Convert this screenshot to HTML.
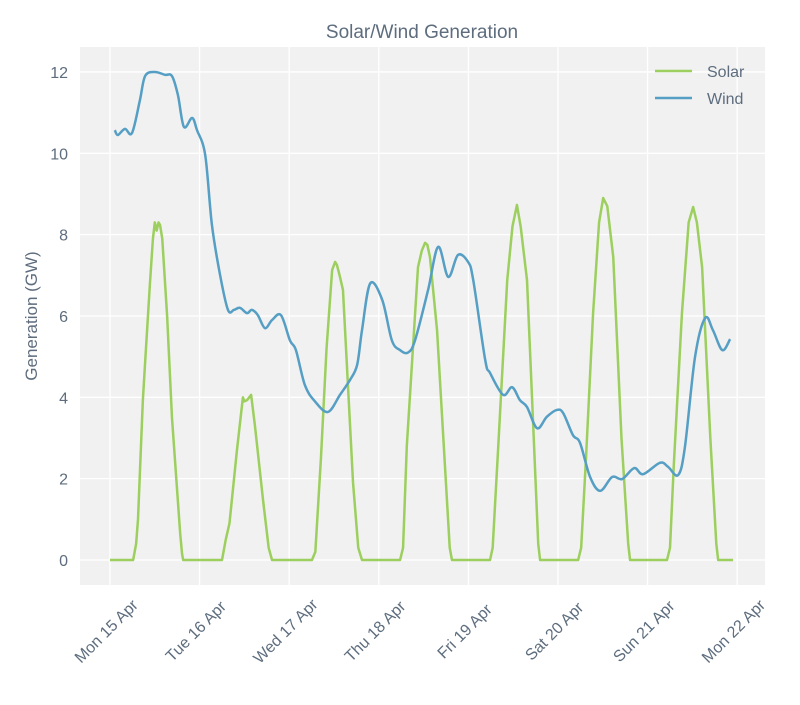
<!DOCTYPE html>
<html><head><meta charset="utf-8"><style>
body{margin:0;background:#fff;}
svg text{font-family:"Liberation Sans",sans-serif;fill:#5d6d7e;}
</style></head><body>
<svg id="chart" width="800" height="700">
<text x="422" y="38" font-size="19" text-anchor="middle">Solar/Wind Generation</text>
<rect x="80" y="47" width="685" height="538" fill="#f1f1f1"/>
<g id="grid"></g><g id="series"></g><g id="axes"></g>
<text transform="translate(37,316) rotate(-90)" font-size="17" text-anchor="middle">Generation (GW)</text>
<g>
<line x1="655" y1="71" x2="692" y2="71" stroke="#9ccf5e" stroke-width="2.5"/>
<text x="707" y="77" font-size="16">Solar</text>
<line x1="655" y1="98" x2="692" y2="98" stroke="#559ec4" stroke-width="2.5"/>
<text x="707" y="104" font-size="16">Wind</text>
</g>
</svg>
<script>
const dayLabels=["Mon 15 Apr","Tue 16 Apr","Wed 17 Apr","Thu 18 Apr","Fri 19 Apr","Sat 20 Apr","Sun 21 Apr","Mon 22 Apr"];
const yTicks=[0,2,4,6,8,10,12];
const windHours=[1.3,2.1,4,5.9,8,9.4,12,14.7,16.6,18.2,19.8,22,23.3,25.5,27.3,29.5,31.6,33.2,34.8,36.7,38,39.6,41.5,43.4,45.8,48.2,49.8,52.2,54.9,58.4,61.6,64.3,66.2,67.5,69.7,72.9,75.5,77.7,79.8,81.7,85.2,87.9,90.6,93.2,95.9,97.3,100.5,101.8,105.3,107.7,109.8,111.7,114.4,117,119.7,121.4,124,125.9,128.6,131.3,134.5,137.2,140.4,142.8,147.3,149.5,152.2,154,156.7,159.4,161.5,164,166.1];
const windValues=[10.57,10.45,10.6,10.5,11.3,11.9,12.0,11.93,11.9,11.43,10.65,10.87,10.57,9.96,8.24,7.0,6.15,6.15,6.2,6.07,6.15,6.02,5.7,5.9,6.02,5.4,5.16,4.3,3.9,3.64,4.06,4.43,4.8,5.65,6.8,6.4,5.4,5.16,5.1,5.4,6.64,7.7,6.96,7.5,7.33,6.88,4.92,4.6,4.06,4.25,3.93,3.76,3.24,3.52,3.69,3.61,3.07,2.88,2.04,1.7,2.04,1.99,2.26,2.11,2.39,2.29,2.09,2.78,4.99,5.95,5.65,5.16,5.43];
const solarHours=[0,6.2,7,7.5,8.8,9.5,10.7,11.5,12,12.5,13,13.4,14,15.3,16.6,18.8,19.3,19.6,30,31,32,34,35.6,36,36.7,37.3,37.8,38.8,41,42.5,43.4,54.1,55,56.5,58,59.5,60.3,60.8,61.5,62.4,65.1,66.5,67.5,77.7,78.5,79.5,82.5,83.5,84.4,85,85.7,87.6,91,91.6,101.8,102.5,104,106.4,107.8,109,110,111.7,113.5,114.7,115.2,125.4,126.2,127.5,129.4,131,132.1,133.2,134.8,137,138.8,139.3,149.2,150,151,153.2,155,156.2,157.2,158.6,160.8,162.4,162.9,166.9];
const solarValues=[0,0,0.4,1.0,3.93,5.0,6.8,7.9,8.3,8.1,8.3,8.24,7.9,6.0,3.5,0.65,0.15,0,0,0.5,0.9,2.7,4.0,3.9,3.93,4.0,4.06,3.32,1.47,0.3,0,0,0.2,2.5,5.2,7.13,7.33,7.25,7.0,6.64,1.9,0.3,0,0,0.3,2.8,7.2,7.6,7.8,7.75,7.45,5.65,0.3,0,0,0.3,2.8,6.88,8.2,8.73,8.2,6.88,3.0,0.4,0,0,0.3,2.5,6.07,8.3,8.9,8.7,7.45,3.0,0.4,0,0,0.3,2.3,6.07,8.3,8.68,8.3,7.2,3.0,0.4,0,0];
const NS="http://www.w3.org/2000/svg";
const X0=80,X1=765,Y0=47,Y1=585;
function xScale(h){return 110+h*(89.6/24);}
function yScale(v){return 560-v*40.67;}
function mk(tag,attrs,parent){const e=document.createElementNS(NS,tag);for(const k in attrs)e.setAttribute(k,attrs[k]);parent.appendChild(e);return e;}
const grid=document.getElementById('grid'),axes=document.getElementById('axes'),series=document.getElementById('series');
yTicks.forEach((t,i)=>{
  const y=yScale(t);
  const g=mk('line',{x1:X0,x2:X1,y1:y,y2:y,stroke:'#fff','stroke-width':1.3},grid);
  
  
  const tx=mk('text',{x:68,y:y+6,'font-size':16,'text-anchor':'end'},axes);
  tx.textContent=t;
  
  
});
dayLabels.forEach((d,i)=>{
  const x=xScale(i*24);
  const g=mk('line',{x1:x,x2:x,y1:Y0,y2:Y1,stroke:'#fff','stroke-width':1.3},grid);
  
  
  const tx=mk('text',{transform:`translate(${x},${Y1+50}) rotate(-45)`,'font-size':16,'text-anchor':'middle'},axes);
  tx.textContent=d;
  
  
});
function smooth(hs,vs){
  const p=hs.map((h,i)=>[xScale(h),yScale(vs[i])]);
  let d=`M${p[0][0]},${p[0][1]}`;
  for(let i=0;i<p.length-1;i++){
    const a=p[Math.max(0,i-1)],b=p[i],c=p[i+1],e=p[Math.min(p.length-1,i+2)];
    const c1=[b[0]+(c[0]-a[0])/6,b[1]+(c[1]-a[1])/6],c2=[c[0]-(e[0]-b[0])/6,c[1]-(e[1]-b[1])/6];
    d+=` C${c1[0]},${c1[1]} ${c2[0]},${c2[1]} ${c[0]},${c[1]}`;
  }
  return d;
}
function linear(hs,vs){return hs.map((h,i)=>(i?'L':'M')+xScale(h)+','+yScale(vs[i])).join(' ');}
const sp=mk('path',{d:linear(solarHours,solarValues),fill:'none',stroke:'#9ccf5e','stroke-width':2.5,'stroke-linejoin':'round'},series);


const wp=mk('path',{d:smooth(windHours,windValues),fill:'none',stroke:'#559ec4','stroke-width':2.5,'stroke-linejoin':'round'},series);


</script>
</body></html>
